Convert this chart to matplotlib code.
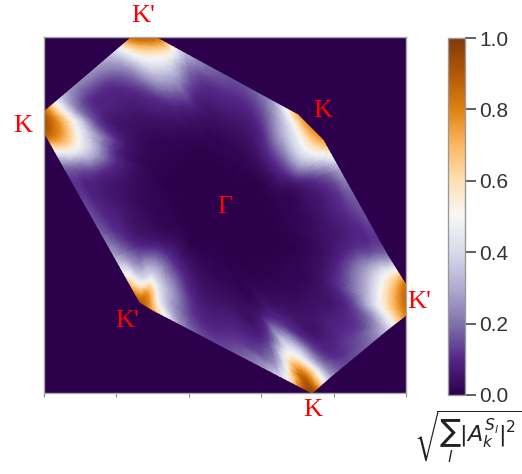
import numpy as np
import matplotlib
matplotlib.use("Agg")
import matplotlib.pyplot as plt
import matplotlib.tri as mtri

# ---- data -------------------------------------------------------------
# Brillouin-zone boundary points (k-space, axes units), clockwise from top
bz_kx = [-0.514, -0.387, -0.229, 0.008, 0.245, 0.403, 0.541, 0.631, 0.765, 0.899,
         1.000, 1.000, 0.892, 0.738, 0.583, 0.481, 0.305, 0.041, -0.222, -0.398,
         -0.470, -0.514, -0.611, -0.757, -0.903, -1.000, -1.000, -0.903, -0.757, -0.611]
bz_ky = [1.000, 1.000, 0.912, 0.781, 0.649, 0.562, 0.421, 0.258, 0.014, -0.230,
         -0.393, -0.562, -0.648, -0.778, -0.908, -1.000, -0.907, -0.767, -0.627, -0.534,
         -0.489, -0.410, -0.235, 0.028, 0.291, 0.466, 0.579, 0.663, 0.789, 0.916]
gamma_k = (0.0, 0.02)

# fractional distance of each sampling ring from Gamma toward the boundary
ring_frac = [1.0, 0.9, 0.78, 0.6, 0.4]

# sqrt(sum |A|^2) on each ring (same order as the boundary points)
ring_100 = [0.88, 0.88, 0.35, 0.16, 0.25, 0.72, 0.75, 0.30, 0.16, 0.22,
            0.85, 0.82, 0.35, 0.16, 0.30, 0.97, 0.40, 0.16, 0.22, 0.72,
            0.90, 0.72, 0.30, 0.15, 0.25, 0.92, 0.88, 0.35, 0.25, 0.40]
ring_090 = [0.55, 0.55, 0.22, 0.12, 0.18, 0.45, 0.58, 0.20, 0.12, 0.15,
            0.55, 0.62, 0.22, 0.12, 0.20, 0.85, 0.25, 0.12, 0.15, 0.45,
            0.75, 0.45, 0.20, 0.10, 0.18, 0.72, 0.72, 0.22, 0.12, 0.25]
ring_078 = [0.32, 0.32, 0.13, 0.08, 0.11, 0.30, 0.40, 0.13, 0.08, 0.10,
            0.28, 0.32, 0.13, 0.08, 0.11, 0.50, 0.14, 0.08, 0.10, 0.30,
            0.40, 0.35, 0.11, 0.07, 0.11, 0.42, 0.42, 0.14, 0.08, 0.14]
ring_060 = [0.09, 0.09, 0.05, 0.035, 0.05, 0.11, 0.13, 0.05, 0.035, 0.045,
            0.07, 0.09, 0.05, 0.035, 0.05, 0.11, 0.05, 0.035, 0.045, 0.10,
            0.13, 0.12, 0.05, 0.03, 0.045, 0.10, 0.10, 0.06, 0.035, 0.06]
ring_040 = [0.015, 0.015, 0.012, 0.01, 0.012, 0.015, 0.015, 0.012, 0.01, 0.012,
            0.012, 0.012, 0.012, 0.01, 0.012, 0.015, 0.012, 0.01, 0.012, 0.015,
            0.015, 0.015, 0.012, 0.01, 0.012, 0.015, 0.015, 0.012, 0.01, 0.012]
gamma_value = 0.0

# high-symmetry labels
label_text = ["K'", "K", "K", "Γ", "K'", "K'", "K"]
label_kx = [-0.453, -1.116, 0.541, 0.0, -0.541, 1.072, 0.486]
label_ky = [1.118, 0.500, 0.584, 0.045, -0.596, -0.489, -1.096]

cbar_ticks = [0.0, 0.2, 0.4, 0.6, 0.8, 1.0]
x_ticks = [-1.0, -0.6, -0.2, 0.2, 0.6, 1.0]

# ---- mesh -------------------------------------------------------------
rings = [ring_100, ring_090, ring_078, ring_060, ring_040]
bx = np.array(bz_kx)
by = np.array(bz_ky)
n = len(bx)
xs, ys, vs = [], [], []
for frac, vals in zip(ring_frac, rings):
    xs.extend(gamma_k[0] + frac * (bx - gamma_k[0]))
    ys.extend(gamma_k[1] + frac * (by - gamma_k[1]))
    vs.extend(vals)
xs.append(gamma_k[0]); ys.append(gamma_k[1]); vs.append(gamma_value)
center = len(xs) - 1
tris = []
for i in range(len(rings) - 1):
    for j in range(n):
        a = i * n + j
        b = i * n + (j + 1) % n
        c = (i + 1) * n + (j + 1) % n
        d = (i + 1) * n + j
        tris.append([a, b, c])
        tris.append([a, c, d])
last = (len(rings) - 1) * n
for j in range(n):
    tris.append([last + j, last + (j + 1) % n, center])
tri = mtri.Triangulation(np.array(xs), np.array(ys), np.array(tris))
vals = np.array(vs)
interp = mtri.CubicTriInterpolator(tri, vals, kind="geom")
refiner = mtri.UniformTriRefiner(tri)
tri_f, vals_f = refiner.refine_field(vals, triinterpolator=interp, subdiv=3)
vals_f = np.clip(vals_f, 0.0, 1.0)

# ---- figure -----------------------------------------------------------
cmap = plt.get_cmap("PuOr_r")
fig = plt.figure(figsize=(5.22, 4.74), dpi=100)
ax = fig.add_axes([0.0843, 0.1709, 0.6935, 0.7511])
ax.set_facecolor(cmap(0.0))
tpc = ax.tripcolor(tri_f, vals_f, shading="gouraud", cmap=cmap, vmin=0, vmax=1)
ax.set_xlim(-1, 1)
ax.set_ylim(-1, 1)
ax.set_xticks(x_ticks)
ax.set_xticklabels([])
ax.set_yticks([])
ax.tick_params(axis="x", length=3, color="#888888", width=0.8)
for s in ax.spines.values():
    s.set_color("#aaaaaa")
    s.set_linewidth(1.0)

for t, x, y in zip(label_text, label_kx, label_ky):
    ax.text(x, y, t, color="red", fontsize=19, family="Liberation Serif",
            ha="center", va="center", clip_on=False)

cax = fig.add_axes([0.8582, 0.1667, 0.0326, 0.753])
cb = fig.colorbar(tpc, cax=cax, ticks=cbar_ticks)
cb.ax.set_yticklabels([f"{t:.1f}" for t in cbar_ticks])
cb.ax.tick_params(length=8, width=1.2, color="#444444", labelcolor="#333333",
                  labelsize=15, pad=2)
for lab in cb.ax.get_yticklabels():
    lab.set_family("Liberation Sans")
cb.outline.set_edgecolor("#999999")
cb.outline.set_linewidth(1.0)

fig.text(0.895, 0.078, r"$\sqrt{\sum_{l} |A_{k}^{S_{l}}|^{2}}$", fontsize=16,
         ha="center", va="center", color="#222222")

fig.savefig("out.png", dpi=100)
